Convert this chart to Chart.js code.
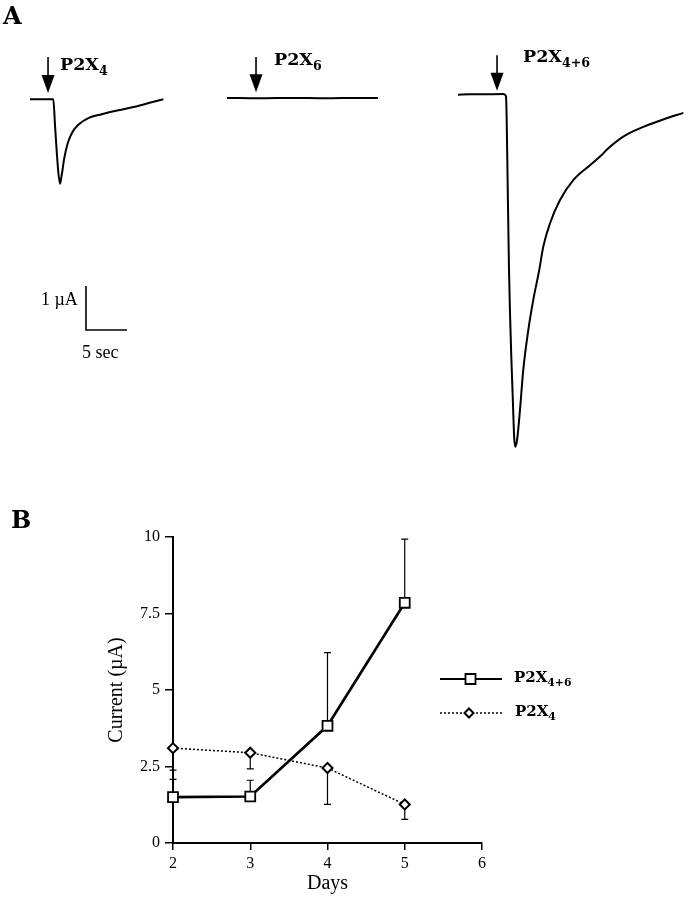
<!DOCTYPE html>
<html><head><meta charset="utf-8">
<script src="https://cdn.jsdelivr.net/npm/chart.js@4.4.1/dist/chart.umd.min.js"></script>
<style>
html,body{margin:0;padding:0;background:#fff;}
#wrap{position:relative;width:688px;height:900px;overflow:hidden;background:#fff;}
canvas{position:absolute;left:0;}
#cA{top:0;}
#cB{top:480px;}
.lab{position:absolute;white-space:nowrap;color:#000;line-height:1;}
.bold{font-family:"DejaVu Serif",serif;font-weight:bold;}
.serif{font-family:"Liberation Serif","Times New Roman",serif;}
.sub{font-size:0.72em;position:relative;top:0.38em;}
</style></head>
<body><div id="wrap">
<canvas id="cA" width="688" height="480"></canvas>
<canvas id="cB" width="688" height="420"></canvas>
<div class="lab bold" style="left:3px;top:4px;font-size:24px;">A</div>
<div class="lab bold" style="left:11px;top:508px;font-size:24px;">B</div>
<div class="lab bold" style="left:60px;top:56px;font-size:17.5px;">P2X<span class="sub">4</span></div>
<div class="lab bold" style="left:274px;top:51px;font-size:17.5px;">P2X<span class="sub">6</span></div>
<div class="lab bold" style="left:523px;top:48px;font-size:17.5px;">P2X<span class="sub">4+6</span></div>
<div class="lab serif" style="left:41px;top:290px;font-size:18px;">1 µA</div>
<div class="lab serif" style="left:82px;top:343px;font-size:18px;">5 sec</div>
<div class="lab bold" style="left:514px;top:670px;font-size:15px;">P2X<span class="sub">4+6</span></div>
<div class="lab bold" style="left:515px;top:704px;font-size:15px;">P2X<span class="sub">4</span></div>
</div>
<script>
// ---------- Panel A data (time in s from trace start, current in µA) ----------
const trace1T = [0, 2.84, 3.05, 3.26, 3.45, 3.66, 3.87, 4.18, 4.60, 5.16, 5.89, 7.11, 8.74, 10.77, 12.80, 14.84, 16.26];
const trace1I = [-0.05, -0.05, -0.64, -1.24, -1.70, -1.97, -1.77, -1.39, -1.05, -0.80, -0.63, -0.48, -0.39, -0.30, -0.22, -0.12, -0.05];
const trace2T = [0, 4, 8, 12, 16, 18.4];
const trace2I = [-0.02, -0.03, -0.02, -0.03, -0.02, -0.02];
const trace3T = [0, 1.46, 3.09, 5.52, 5.85, 5.93, 6.05, 6.22, 6.34, 6.50, 6.66, 6.85, 6.99, 7.20, 7.56, 7.96, 8.57, 9.18, 9.91, 10.40, 11.22, 12.44, 14.06, 16.10, 17.52, 18.13, 20.16, 22.60, 25.04, 27.48];
const trace3I = [0.05, 0.06, 0.06, 0.07, 0.02, -0.45, -1.89, -3.93, -4.89, -5.91, -6.73, -7.73, -7.95, -7.80, -7.11, -6.20, -5.30, -4.61, -3.93, -3.40, -2.87, -2.34, -1.89, -1.55, -1.32, -1.20, -0.90, -0.68, -0.51, -0.36];
const agonistT = [2.2, 3.54, 4.76];      // application time within each trace (s)
const scaleBarI = 1;   // µA
const scaleBarT = 5;   // s

// ---------- Panel B data ----------
const days = [2, 3, 4, 5];
const p2x46 = [1.50, 1.52, 3.83, 7.85];
const p2x46Err = [0.88, 0.53, 2.39, 2.08];
const p2x4 = [3.10, 2.95, 2.45, 1.26];
const p2x4Err = [1.02, 0.53, 1.19, 0.49];
const xTicks = [2, 3, 4, 5, 6];
const yTicks = [0, 2.5, 5, 7.5, 10];
const yTickLabels = ['0', '2.5', '5', '7.5', '10'];

// ---------- layout (not data) ----------
const PX_PER_S = 8.2, PX_PER_UA = 44, ZERO_Y = 97, A_H = 480, A_W = 688;
const traceStart = [30 / PX_PER_S, 227 / PX_PER_S, 458 / PX_PER_S];
const arrowTopI = [0.91, 0.91, 0.95], arrowTipI = [0.09, 0.11, 0.14];
const scaleBarAnchor = {x: 86 / PX_PER_S, y: (ZERO_Y - 286) / PX_PER_UA};

const traces = [[trace1T, trace1I], [trace2T, trace2I], [trace3T, trace3I]];

const arrowPlugin = {
  id: 'arrows',
  afterDatasetsDraw(chart) {
    const {ctx, scales: {x, y}} = chart;
    ctx.save();
    ctx.strokeStyle = '#000'; ctx.fillStyle = '#000'; ctx.lineWidth = 1.6;
    agonistT.forEach((t, k) => {
      const px = x.getPixelForValue(traceStart[k] + t);
      const top = y.getPixelForValue(arrowTopI[k]);
      const tip = y.getPixelForValue(arrowTipI[k]);
      const headLen = 18, headW = 6.5;
      ctx.beginPath(); ctx.moveTo(px, top); ctx.lineTo(px, tip - headLen + 2); ctx.stroke();
      ctx.beginPath(); ctx.moveTo(px - headW, tip - headLen); ctx.lineTo(px + headW, tip - headLen); ctx.lineTo(px, tip); ctx.closePath(); ctx.fill();
    });
    ctx.restore();
  }
};

const dsA = traces.map((tr, k) => ({
  data: tr[0].map((t, i) => ({x: t + traceStart[k], y: tr[1][i]})),
  borderColor: '#000', borderWidth: 2, pointRadius: 0, cubicInterpolationMode: 'monotone', fill: false, clip: false
}));
dsA.push({
  data: [
    {x: scaleBarAnchor.x, y: scaleBarAnchor.y},
    {x: scaleBarAnchor.x, y: scaleBarAnchor.y - scaleBarI},
    {x: scaleBarAnchor.x + scaleBarT, y: scaleBarAnchor.y - scaleBarI}
  ],
  borderColor: '#000', borderWidth: 1.6, pointRadius: 0, tension: 0, fill: false, clip: false
});

new Chart(document.getElementById('cA'), {
  type: 'line',
  data: {datasets: dsA},
  options: {
    responsive: false, animation: false, events: [],
    layout: {padding: 0},
    plugins: {legend: {display: false}, tooltip: {enabled: false}},
    scales: {
      x: {type: 'linear', display: false, min: 0, max: A_W / PX_PER_S},
      y: {type: 'linear', display: false, min: -(A_H - ZERO_Y) / PX_PER_UA, max: ZERO_Y / PX_PER_UA}
    }
  },
  plugins: [arrowPlugin]
});

// ---------- Panel B ----------
const errorBars = {
  id: 'errorBars',
  beforeDatasetsDraw(chart) {
    const {ctx, scales: {x, y}} = chart;
    ctx.save(); ctx.strokeStyle = '#000'; ctx.lineWidth = 1.2;
    const draw = (vals, errs, dir) => vals.forEach((v, i) => {
      const px = x.getPixelForValue(days[i]);
      const y0 = y.getPixelForValue(v), y1 = y.getPixelForValue(v + dir * errs[i]);
      ctx.beginPath(); ctx.moveTo(px, y0); ctx.lineTo(px, y1);
      ctx.moveTo(px - 3.5, y1); ctx.lineTo(px + 3.5, y1); ctx.stroke();
    });
    draw(p2x46, p2x46Err, 1); draw(p2x4, p2x4Err, -1);
    ctx.restore();
  }
};

const legendB = {
  id: 'legendB',
  afterDraw(chart) {
    const ctx = chart.ctx;
    ctx.save();
    ctx.strokeStyle = '#000'; ctx.lineWidth = 2; ctx.setLineDash([]);
    ctx.beginPath(); ctx.moveTo(440, 199); ctx.lineTo(502, 199); ctx.stroke();
    ctx.fillStyle = '#fff'; ctx.lineWidth = 1.8;
    ctx.beginPath(); ctx.rect(465.5, 194, 10, 10); ctx.fill(); ctx.stroke();
    ctx.lineWidth = 1.5; ctx.setLineDash([2, 2]);
    ctx.beginPath(); ctx.moveTo(440, 233); ctx.lineTo(502, 233); ctx.stroke();
    ctx.setLineDash([]); ctx.lineWidth = 2;
    ctx.beginPath(); ctx.moveTo(469, 228.5); ctx.lineTo(473.5, 233); ctx.lineTo(469, 237.5); ctx.lineTo(464.5, 233); ctx.closePath(); ctx.fill(); ctx.stroke();
    ctx.restore();
  }
};

const tickFont = {family: 'Liberation Serif', size: 16};
const titleFont = {family: 'Liberation Serif', size: 20};

new Chart(document.getElementById('cB'), {
  type: 'line',
  data: {datasets: [
    {label: 'P2X4+6', data: days.map((d, i) => ({x: d, y: p2x46[i]})),
     borderColor: '#000', borderWidth: 2.6, pointStyle: 'rect', pointRadius: 7,
     pointBackgroundColor: '#fff', pointBorderColor: '#000', pointBorderWidth: 1.8, tension: 0, clip: false},
    {label: 'P2X4', data: days.map((d, i) => ({x: d, y: p2x4[i]})),
     borderColor: '#000', borderWidth: 1.5, borderDash: [2, 2], pointStyle: 'rectRot', pointRadius: 5,
     pointBackgroundColor: '#fff', pointBorderColor: '#000', pointBorderWidth: 2, tension: 0, clip: false}
  ]},
  options: {
    responsive: false, animation: false, events: [],
    layout: {padding: {left: 101, right: 206, top: 57, bottom: 0}},
    plugins: {legend: {display: false}, tooltip: {enabled: false}},
    scales: {
      x: {
        type: 'linear', min: xTicks[0], max: xTicks[xTicks.length - 1],
        afterBuildTicks(s) { s.ticks = xTicks.map(v => ({value: v})); },
        ticks: {color: '#000', font: tickFont, padding: 4, maxRotation: 0, callback: v => String(v)},
        grid: {display: true, drawOnChartArea: false, drawTicks: true, tickLength: 7, color: '#000', lineWidth: 1.5},
        border: {display: true, color: '#000', width: 2},
        title: {display: true, text: 'Days', color: '#000', font: titleFont, padding: {top: 4, bottom: 4}},
        afterFit(s) { s.height = 57; }
      },
      y: {
        type: 'linear', min: yTicks[0], max: yTicks[yTicks.length - 1],
        afterBuildTicks(s) { s.ticks = yTicks.map(v => ({value: v})); },
        ticks: {color: '#000', font: tickFont, padding: 5, callback: (v) => yTickLabels[yTicks.indexOf(v)]},
        grid: {display: true, drawOnChartArea: false, drawTicks: true, tickLength: 8, color: '#000', lineWidth: 1.5},
        border: {display: true, color: '#000', width: 2},
        title: {display: true, text: 'Current (µA)', color: '#000', font: titleFont, padding: {top: 4, bottom: 4}},
        afterFit(s) { s.width = 72; }
      }
    }
  },
  plugins: [errorBars, legendB]
});
</script>
</body></html>
